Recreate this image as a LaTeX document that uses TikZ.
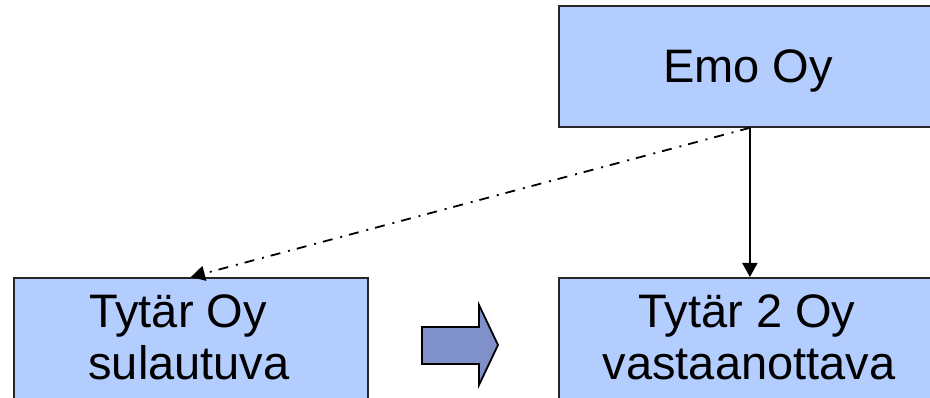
\documentclass[tikz,border=0pt]{standalone}
\usepackage{fontspec}
\setmainfont{Liberation Sans}
\usetikzlibrary{arrows.meta}
\definecolor{boxblue}{RGB}{179,205,255}
\definecolor{arrowblue}{RGB}{128,144,200}
\tikzset{
	company/.style={draw=black!85, fill=boxblue, line width=1.8pt, anchor=north west, minimum width=382pt, minimum height=121pt},
	label/.style={anchor=base, inner sep=0pt, font=\fontsize{47pt}{52pt}\selectfont},
	owns/.style={line width=1.8pt, -{Triangle[length=14pt,width=15pt]}}
}
\begin{document}
\begin{tikzpicture}[x=1pt, y=-1pt]
	\useasboundingbox (0,0) rectangle (930,398);
	\clip (0,0) rectangle (930,398);
	%companies
	\node[company] (emo) at (558,5){};
	\node[company, minimum width=354pt] (tytar) at (13,277){};
	\node[company] (tytar2) at (558,277){};
	
	\node[label] (emotext) at (748,83){Emo Oy};
	\node[label] (tytartext) at (178,327){Tytär Oy};
	\node[label] (sulautuva) at (189,379){sulautuva};
	\node[label] (tytar2text) at (747,327){Tytär 2 Oy};
	\node[label] (vastaanottava) at (749,379){vastaanottava};
	
	%ownership
	\draw[owns] (emo.south) -- (tytar2.north);
	\draw[owns, dash pattern=on 10pt off 7pt on 2pt off 8pt] (emo.south) -- (tytar.north);
	
	%merger arrow
	\draw[line width=1.8pt, fill=arrowblue] (422,327) -- (479,327) -- (479,305) -- (498,345) -- (479,385) -- (479,364) -- (422,364) -- cycle;
\end{tikzpicture}
\end{document}
